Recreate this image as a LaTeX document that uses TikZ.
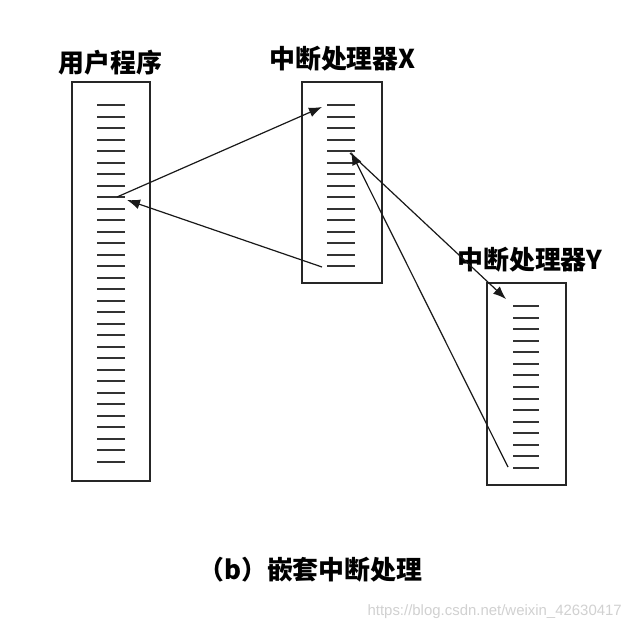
\documentclass[tikz,border=0pt]{standalone}
\usepackage{fontspec}
\newfontfamily\cjk{Noto Sans CJK SC}
\newfontfamily\wm{Liberation Sans}
\usetikzlibrary{arrows.meta}
\begin{document}
\begin{tikzpicture}[x=1bp,y=-1bp,
  box/.style={draw=black!85,line width=1.5bp,minimum width=#1,inner sep=0pt,outer sep=0pt},
  tick/.style={draw=black!80,line width=2bp},
  conn/.style={draw=black!90,line width=1.2bp,-{Latex[length=13bp,width=10bp]}},
  lab/.style={font=\cjk\bfseries\fontsize{26}{26}\selectfont,inner sep=0pt}]
\useasboundingbox[fill=white] (0,0) rectangle (632,630);
% boxes
\node[box=78bp,minimum height=399bp] (U) at (111,281.5) {};
\node[box=80bp,minimum height=201bp] (X) at (342,182.5) {};
\node[box=79bp,minimum height=202bp] (Y) at (526.5,384) {};
% ticks
\foreach \i in {0,...,31} {\pgfmathsetmacro\yy{round(105+11.5*\i)}\draw[tick] (97,\yy) -- (125,\yy);}
\foreach \i in {0,...,14} {\pgfmathsetmacro\yy{round(105+11.5*\i)}\draw[tick] (327,\yy) -- (355,\yy);}
\foreach \i in {0,...,14} {\pgfmathsetmacro\yy{round(306+11.57*\i)}\draw[tick] (513,\yy) -- (539,\yy);}
% connector ends
\coordinate (u1) at (117,197);
\coordinate (u2) at (127,200);
\coordinate (x1) at (322,107);
\coordinate (x2) at (322,267);
\coordinate (x3) at (350,153);
\coordinate (x4) at (351,152);
\coordinate (y1) at (506,299);
\coordinate (y2) at (508,467);
% labels
\node[lab] (LU) at (110.5,63) {用户程序};
\node[lab] (LX) at (342.5,59) {中断处理器X};
\node[lab] (LY) at (530,260) {中断处理器Y};
\node[lab,anchor=west] (CAP) at (198,570) {（b）嵌套中断处理};
\node[font=\wm\fontsize{15}{15}\selectfont,text=black!18,inner sep=0pt,anchor=east] (WM) at (622,612) {https://blog.csdn.net/weixin\_42630417};
% connectors
\draw[conn] (u1) -- (x1);
\draw[conn] (x2) -- (u2);
\draw[conn] (x3) -- (y1);
\draw[conn] (y2) -- (x4);
\end{tikzpicture}
\end{document}
